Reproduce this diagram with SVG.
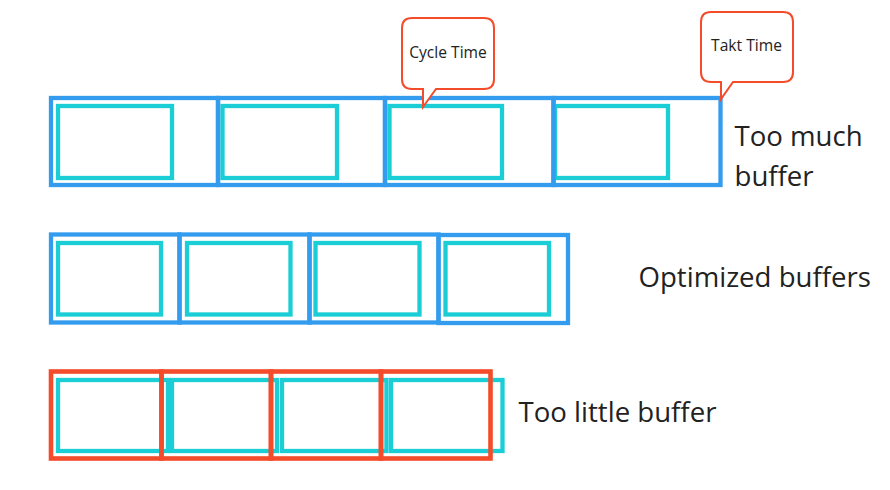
<svg xmlns="http://www.w3.org/2000/svg" width="890" height="490" viewBox="0 0 890 490">
<style>
.blue{fill:none;stroke:#339CEF;stroke-width:4.3}
.teal{fill:none;stroke:#1BCED5;stroke-width:4.3}
.red{fill:none;stroke:#F44B2B;stroke-width:4.6}
.callout{fill:#fff;stroke:#F44B2B;stroke-width:2}
.lbl{font-family:"Open Sans","Noto Sans",sans-serif;font-size:27.6px;fill:#222}
.ctxt{font-family:"Open Sans","Noto Sans",sans-serif;font-size:15.6px;fill:#222;text-anchor:middle}
</style>
<rect width="890" height="490" fill="#fff"/>
<!-- Row 1: too much buffer -->
<g id="row1">
<g id="r1b1"><rect class="teal" x="58" y="106" width="114" height="72"/><rect class="blue" x="51" y="98" width="167" height="87"/></g>
<g id="r1b2"><rect class="teal" x="222.5" y="106" width="114.5" height="72"/><rect class="blue" x="218" y="98" width="167" height="87"/></g>
<g id="r1b3"><rect class="teal" x="389.5" y="106" width="112.5" height="72"/><rect class="blue" x="385" y="98" width="168.5" height="87"/></g>
<g id="r1b4"><rect class="teal" x="555" y="106" width="113" height="72"/><rect class="blue" x="553.5" y="98" width="167" height="87"/></g>
</g>
<!-- Row 2: optimized -->
<g id="row2">
<g id="r2b1"><rect class="teal" x="58" y="243" width="103" height="71.5"/><rect class="blue" x="51" y="234.5" width="128.5" height="88"/></g>
<g id="r2b2"><rect class="teal" x="187" y="243" width="103.5" height="71.5"/><rect class="blue" x="179.5" y="234.5" width="130" height="88"/></g>
<g id="r2b3"><rect class="teal" x="315.5" y="243" width="104" height="71.5"/><rect class="blue" x="309.5" y="234.5" width="129" height="88"/></g>
<g id="r2b4"><rect class="teal" x="445.5" y="243" width="103.5" height="71.5"/><rect class="blue" x="438.5" y="235" width="129.5" height="88"/></g>
</g>
<!-- Row 3: too little buffer -->
<g id="row3">
<g id="r3teal">
<rect class="teal" x="58" y="380" width="110" height="71"/>
<rect class="teal" x="172" y="380" width="105" height="71"/>
<rect class="teal" x="282" y="380" width="104.5" height="71"/>
<rect class="teal" x="391" y="380" width="111.5" height="71"/>
</g>
<g id="r3b1"><rect class="red" x="51" y="371.5" width="110.5" height="87"/></g>
<g id="r3b2"><rect class="red" x="161.5" y="371.5" width="109.5" height="87"/></g>
<g id="r3b3"><rect class="red" x="271" y="371.5" width="110" height="87"/></g>
<g id="r3b4"><rect class="red" x="381" y="371.5" width="109.5" height="87"/></g>
</g>
<!-- Callouts -->
<g id="cycle-time">
<path class="callout" d="M412,18 H484 Q494,18 494,28 V79 Q494,89 484,89 H436 L423,107 V89 H412 Q402,89 402,79 V28 Q402,18 412,18 Z"/>
<text class="ctxt" x="448" y="57.5">Cycle Time</text>
</g>
<g id="takt-time">
<path class="callout" d="M711,12 H783 Q793,12 793,22 V72 Q793,82 783,82 H733 L721,99 V82 H711 Q701,82 701,72 V22 Q701,12 711,12 Z"/>
<text class="ctxt" x="746.5" y="51">Takt Time</text>
</g>
<!-- Labels -->
<g id="labels">
<text class="lbl" x="734.5" y="146">Too much</text>
<text class="lbl" x="734.5" y="186">buffer</text>
<text class="lbl" x="638.5" y="287">Optimized buffers</text>
<text class="lbl" x="518.5" y="422">Too little buffer</text>
</g>
<g id="connectors"></g>
</svg>
